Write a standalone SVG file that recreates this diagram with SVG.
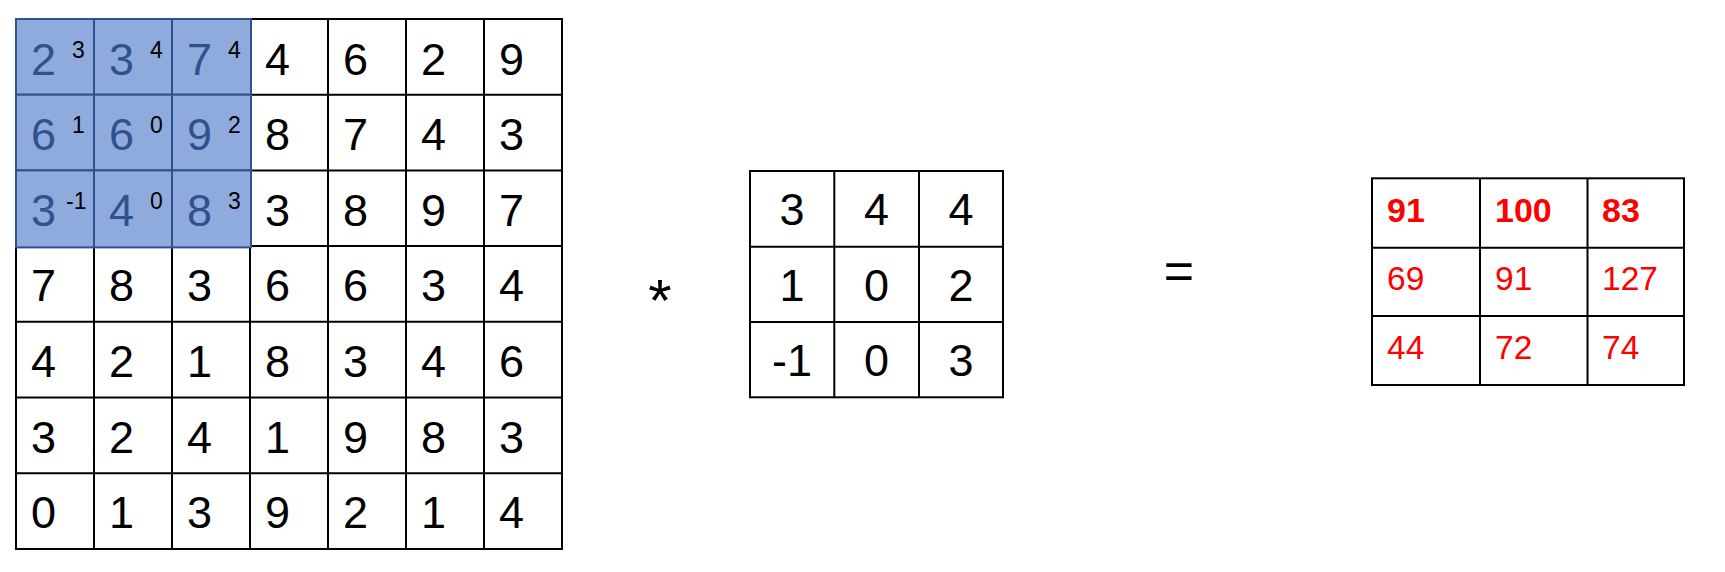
<svg xmlns="http://www.w3.org/2000/svg" width="1725" height="572" viewBox="0 0 1725 572">
<style>
.c{fill:#fff;stroke:#000;stroke-width:2}
.b{fill:#8FAADC;stroke:#2F528F;stroke-width:2}
.t{font-family:"Liberation Sans",Arial,sans-serif;font-size:45px;fill:#000}
.tb{font-family:"Liberation Sans",Arial,sans-serif;font-size:45px;fill:#2F528F}
.s{font-family:"Liberation Sans",Arial,sans-serif;font-size:23px;fill:#000}
.k{font-family:"Liberation Sans",Arial,sans-serif;font-size:45px;fill:#000;text-anchor:middle}
.r{font-family:"Liberation Sans",Arial,sans-serif;font-size:33.5px;fill:#FF0000}
.rb{font-family:"Liberation Sans",Arial,sans-serif;font-size:34px;fill:#FF0000;font-weight:bold}
.op{font-family:"Liberation Sans",Arial,sans-serif;fill:#000;text-anchor:middle}
</style>
<rect width="1725" height="572" fill="#fff"/>
<g id="input">
<g>
<rect class="c" x="16" y="19" width="546" height="530"/>
<path d="M94 19V549M172 19V549M250 19V549M328 19V549M406 19V549M484 19V549M16 94.7H562M16 170.4H562M16 246.1H562M16 321.8H562M16 397.5H562M16 473.2H562" stroke="#000" stroke-width="2" fill="none"/>
</g>
<g id="window">
<rect class="b" x="16" y="19" width="78" height="75.7"/>
<rect class="b" x="94" y="19" width="78" height="75.7"/>
<rect class="b" x="172" y="19" width="79" height="75.7"/>
<rect class="b" x="16" y="94.7" width="78" height="75.7"/>
<rect class="b" x="94" y="94.7" width="78" height="75.7"/>
<rect class="b" x="172" y="94.7" width="79" height="75.7"/>
<rect class="b" x="16" y="170.4" width="78" height="77"/>
<rect class="b" x="94" y="170.4" width="78" height="77"/>
<rect class="b" x="172" y="170.4" width="79" height="77"/>
</g>
<g>
<text class="tb" x="31" y="74.5">2</text><text class="tb" x="109" y="74.5">3</text><text class="tb" x="187" y="74.5">7</text>
<text class="tb" x="31" y="150.2">6</text><text class="tb" x="109" y="150.2">6</text><text class="tb" x="187" y="150.2">9</text>
<text class="tb" x="31" y="225.5">3</text><text class="tb" x="109" y="225.5">4</text><text class="tb" x="187" y="225.5">8</text>
<text class="s" x="72" y="57.5">3</text><text class="s" x="150" y="57.5">4</text><text class="s" x="228" y="57.5">4</text>
<text class="s" x="72" y="133">1</text><text class="s" x="150" y="133">0</text><text class="s" x="228" y="133">2</text>
<text class="s" x="66" y="209">-1</text><text class="s" x="150" y="209">0</text><text class="s" x="228" y="209">3</text>
</g>
<g>
<text class="t" x="265" y="74.5">4</text><text class="t" x="343" y="74.5">6</text><text class="t" x="421" y="74.5">2</text><text class="t" x="499" y="74.5">9</text>
<text class="t" x="265" y="150.2">8</text><text class="t" x="343" y="150.2">7</text><text class="t" x="421" y="150.2">4</text><text class="t" x="499" y="150.2">3</text>
<text class="t" x="265" y="225.5">3</text><text class="t" x="343" y="225.5">8</text><text class="t" x="421" y="225.5">9</text><text class="t" x="499" y="225.5">7</text>
<text class="t" x="31" y="301.1">7</text><text class="t" x="109" y="301.1">8</text><text class="t" x="187" y="301.1">3</text><text class="t" x="265" y="301.1">6</text><text class="t" x="343" y="301.1">6</text><text class="t" x="421" y="301.1">3</text><text class="t" x="499" y="301.1">4</text>
<text class="t" x="31" y="376.8">4</text><text class="t" x="109" y="376.8">2</text><text class="t" x="187" y="376.8">1</text><text class="t" x="265" y="376.8">8</text><text class="t" x="343" y="376.8">3</text><text class="t" x="421" y="376.8">4</text><text class="t" x="499" y="376.8">6</text>
<text class="t" x="31" y="452.5">3</text><text class="t" x="109" y="452.5">2</text><text class="t" x="187" y="452.5">4</text><text class="t" x="265" y="452.5">1</text><text class="t" x="343" y="452.5">9</text><text class="t" x="421" y="452.5">8</text><text class="t" x="499" y="452.5">3</text>
<text class="t" x="31" y="528.2">0</text><text class="t" x="109" y="528.2">1</text><text class="t" x="187" y="528.2">3</text><text class="t" x="265" y="528.2">9</text><text class="t" x="343" y="528.2">2</text><text class="t" x="421" y="528.2">1</text><text class="t" x="499" y="528.2">4</text>
</g>
</g>
<g id="op-conv">
<text class="op" x="660" y="321" font-size="60">*</text>
</g>
<g id="kernel">
<rect class="c" x="750" y="171" width="253" height="226.3"/>
<path d="M834.3 171V397.3M919 171V397.3M750 246.7H1003M750 322H1003" stroke="#000" stroke-width="2" fill="none"/>
<text class="k" x="792" y="225">3</text><text class="k" x="876.6" y="225">4</text><text class="k" x="961" y="225">4</text>
<text class="k" x="792" y="300.7">1</text><text class="k" x="876.6" y="300.7">0</text><text class="k" x="961" y="300.7">2</text>
<text class="k" x="792" y="376">-1</text><text class="k" x="876.6" y="376">0</text><text class="k" x="961" y="376">3</text>
</g>
<g id="op-eq">
<text class="op" x="1179" y="289" font-size="52">=</text>
</g>
<g id="output">
<rect class="c" x="1372" y="178.3" width="312" height="206.7"/>
<path d="M1480 178.3V385M1587.5 178.3V385M1372 247.8H1684M1372 316H1684" stroke="#000" stroke-width="2" fill="none"/>
<text class="rb" x="1387" y="221.5">91</text><text class="rb" x="1495" y="221.5">100</text><text class="rb" x="1602" y="221.5">83</text>
<text class="r" x="1387" y="290">69</text><text class="r" x="1495" y="290">91</text><text class="r" x="1602" y="290">127</text>
<text class="r" x="1387" y="359">44</text><text class="r" x="1495" y="359">72</text><text class="r" x="1602" y="359">74</text>
</g>
</svg>
